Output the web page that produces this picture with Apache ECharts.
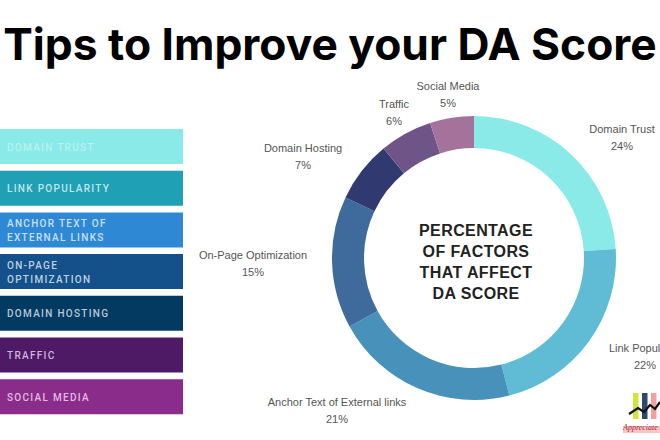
<!DOCTYPE html>
<html>
<head>
<meta charset="utf-8">
<style>
html, body { margin: 0; padding: 0; background: #fff; overflow: hidden; }
#chart { width: 660px; height: 440px; }
</style>
<script src="https://cdn.jsdelivr.net/npm/echarts@6/dist/echarts.min.js"></script>
</head>
<body>
<div id="chart"></div>
<script>
const factorNames = ['Domain Trust', 'Link Popularity', 'Anchor Text of External links', 'On-Page Optimization', 'Domain Hosting', 'Traffic', 'Social Media'];
const factorValues = [24, 22, 21, 15, 7, 6, 5];
const sliceColors = ['#8aeae8', '#60bcd4', '#4791ba', '#3e6b9c', '#303a70', '#6f5488', '#a5729c'];

const boxLabels = ['DOMAIN TRUST', 'LINK POPULARITY', 'ANCHOR TEXT OF\nEXTERNAL LINKS', 'ON-PAGE\nOPTIMIZATION', 'DOMAIN HOSTING', 'TRAFFIC', 'SOCIAL MEDIA'];
const boxColors = ['#8aeae8', '#20a0b4', '#2e88d4', '#14508a', '#033a62', '#4e1a66', '#8a2c8a'];
const boxTextColors = ['#b8f2f0', '#bfe6ec', '#c6e0f6', '#bcd0e2', '#b4c8d6', '#d0b4de', '#e0bce0'];

// label centres, the reference has them placed by hand
const labelSpots = [[622, 137], [645, 356], [337, 410], [253, 263], [303, 156], [394, 112], [448, 94]];

const chart = echarts.init(document.getElementById('chart'), null, { renderer: 'svg' });

const graphics = [];
boxLabels.forEach((label, i) => {
    graphics.push({
        type: 'rect',
        shape: { x: 0, y: 129 + i * 41.7, width: 183, height: 35 },
        style: { fill: boxColors[i] }
    });
    graphics.push({
        type: 'text',
        x: 7,
        y: 147 + i * 41.7,
        style: {
            text: label,
            fill: boxTextColors[i],
            font: '500 10px Roboto',
            lineHeight: 14,
            verticalAlign: 'middle'
        }
    });
});

graphics.push({
    type: 'text',
    x: 330,
    y: 44,
    style: {
        text: 'Tips to Improve your DA Score',
        fill: '#000',
        font: '700 44.3px Inter',
        align: 'center',
        verticalAlign: 'middle'
    }
});
graphics.push({
    type: 'text',
    x: 476,
    y: 261.5,
    style: {
        text: 'PERCENTAGE\nOF FACTORS\nTHAT AFFECT\nDA SCORE',
        fill: '#222',
        font: '700 16px "Liberation Sans"',
        lineHeight: 21,
        align: 'center',
        verticalAlign: 'middle'
    }
});

// small logo, bottom right
['#d4e23c', '#2c4a70', '#f4a0a0', '#d4e23c'].forEach((c, i) => {
    graphics.push({ type: 'rect', shape: { x: 633 + i * 9, y: 393, width: 5.5, height: 26 }, style: { fill: c } });
});
graphics.push({
    type: 'polyline',
    shape: { points: [[629, 414], [638, 408], [644, 412], [650, 405], [655, 409], [660, 402]] },
    style: { stroke: '#111', lineWidth: 2.2, fill: 'none' }
});
graphics.push({ type: 'rect', shape: { x: 623, y: 426, width: 37, height: 7 }, style: { fill: '#f8c4c4' } });
graphics.push({
    type: 'text',
    x: 623,
    y: 427,
    style: { text: 'Appreciate Marketing', fill: '#a02838', font: 'italic 8px "Liberation Serif"', verticalAlign: 'middle' }
});

chart.setOption({
    animation: false,
    backgroundColor: '#fff',
    graphic: graphics,
    series: [
        {
            type: 'pie',
            center: [474, 258],
            radius: [110, 142],
            startAngle: 90,
            silent: true,
            color: sliceColors,
            data: factorNames.map((name, i) => ({ name: name, value: factorValues[i] })),
            label: {
                show: true,
                formatter: '{b}\n{d}%',
                fontFamily: 'Liberation Sans',
                fontSize: 11,
                lineHeight: 17,
                color: '#555',
                align: 'center',
                verticalAlign: 'middle',
                overflow: 'none'
            },
            labelLine: { show: false },
            labelLayout: function (params) {
                const spot = labelSpots[params.dataIndex];
                return { x: spot[0], y: spot[1], align: 'center', verticalAlign: 'middle', hideOverlap: false };
            }
        }
    ]
});

// echarts has no letter spacing option, the svg text takes it from css
const spaced = boxLabels.join('\n').split('\n');
document.querySelectorAll('#chart text').forEach(t => {
    if (spaced.includes(t.textContent)) t.style.letterSpacing = '1.3px';
    if (['PERCENTAGE', 'OF FACTORS', 'THAT AFFECT', 'DA SCORE'].includes(t.textContent)) t.style.letterSpacing = '0.4px';
});
</script>
</body>
</html>
